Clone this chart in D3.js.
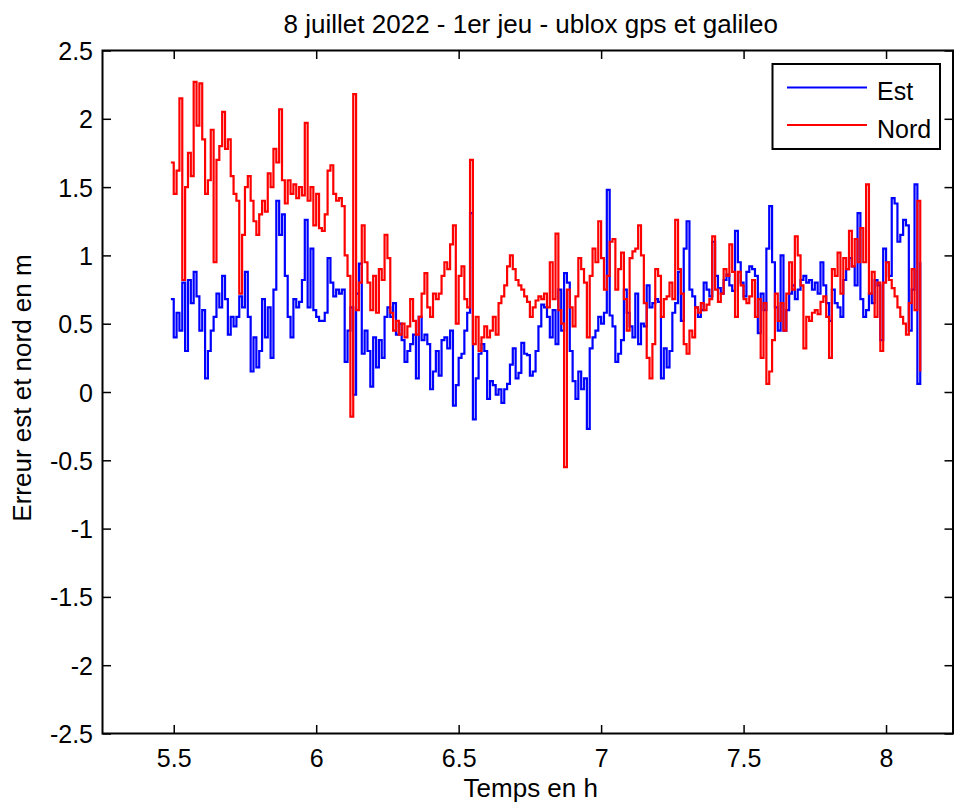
<!DOCTYPE html>
<html>
<head>
<meta charset="utf-8">
<script src="https://cdn.jsdelivr.net/npm/d3@7"></script>
<style>
  html, body { margin: 0; padding: 0; background: #fff; }
  svg { display: block; font-family: "Liberation Sans", Arial, Helvetica, sans-serif; }
</style>
</head>
<body>
<svg id="chart" width="955" height="807"></svg>
<script>
// Sampling grid of the record (hours), one sample every 0.01 h
const startHour = 5.49;
const stepHour = 0.01;

// Error in the east direction (m)
const est = [
  0.68, 0.40, 0.58, 0.45, 0.80, 0.30, 0.82, 0.65, 0.88, 0.70,
  0.45, 0.60, 0.10, 0.30, 0.45, 0.55, 0.72, 0.62, 0.85, 0.68,
  0.42, 0.55, 0.48, 0.55, 0.70, 0.62, 0.88, 0.55, 0.15, 0.40,
  0.18, 0.30, 0.68, 0.40, 0.62, 0.25, 0.75, 1.40, 1.15, 1.30,
  0.85, 0.55, 0.40, 0.68, 0.62, 0.66, 0.82, 1.26, 0.62, 1.05,
  0.60, 0.55, 0.52, 0.52, 0.58, 0.98, 0.80, 0.70, 0.75, 0.72,
  0.75, 0.22, 0.45, 0.62, -0.02, 0.72, 0.94, 0.28, 0.45, 0.30,
  0.04, 0.40, 0.18, 0.38, 0.25, 0.55, 0.62, 0.55, 0.65, 0.42,
  0.50, 0.38, 0.22, 0.30, 0.35, 0.42, 0.10, 0.55, 0.38, 0.42,
  0.35, 0.02, 0.15, 0.30, 0.12, 0.38, 0.40, 0.32, 0.45, -0.10,
  0.05, 0.25, 0.28, 0.45, 0.58, 1.31, -0.20, 0.10, 0.28, 0.35,
  0.30, -0.05, 0.08, 0.05, -0.02, 0.02, -0.08, 0.02, 0.06, 0.20,
  0.32, 0.10, 0.14, 0.36, 0.28, 0.27, 0.12, 0.15, 0.30, 0.48,
  0.64, 0.62, 0.55, 0.40, 0.60, 0.35, 0.75, 0.45, 0.87, 0.80,
  0.30, 0.08, -0.05, 0.15, 0.02, 0.10, -0.27, 0.32, 0.40, 0.45,
  0.55, 0.50, 0.58, 1.48, 0.56, 0.48, 0.22, 0.28, 0.38, 0.75,
  0.58, 0.48, 0.40, 0.72, 0.35, 0.50, 0.48, 0.78, 0.62, 0.65,
  0.68, 0.66, 0.10, 0.32, 0.18, 0.30, 0.58, 0.65, 0.88, 0.52,
  1.05, 1.25, 0.75, 0.70, 0.62, 0.55, 0.60, 0.80, 0.75, 0.70,
  1.10, 0.85, 0.76, 0.72, 0.82, 0.86, 0.78, 0.74, 1.18, 0.95,
  0.80, 0.70, 0.88, 0.92, 0.90, 0.85, 0.43, 0.72, 0.60, 1.05,
  1.36, 0.95, 0.62, 0.45, 1.00, 0.45, 0.60, 0.72, 0.78, 0.68,
  0.75, 0.82, 0.85, 0.80, 0.82, 0.75, 0.80, 0.72, 0.95, 0.78,
  0.65, 0.52, 0.75, 0.65, 0.62, 0.55, 0.82, 0.90, 0.98, 0.92,
  0.78, 1.31, 0.68, 0.55, 0.60, 0.72, 0.65, 0.82, 0.78, 0.38,
  1.05, 0.95, 0.85, 1.42, 1.38, 1.10, 1.15, 1.26, 1.22, 0.45,
  0.75, 1.52, 0.06, 0.95
];

// Error in the north direction (m)
const nord = [
  1.68, 1.45, 1.62, 2.15, 0.82, 1.50, 1.75, 1.58, 2.27, 1.95,
  2.26, 1.85, 1.45, 1.55, 1.92, 0.95, 1.70, 1.80, 2.05, 1.78,
  1.85, 1.58, 1.45, 1.40, 0.72, 1.15, 1.50, 1.58, 1.40, 1.25,
  1.15, 1.30, 1.40, 1.32, 1.60, 1.50, 1.78, 1.68, 2.07, 1.55,
  1.38, 1.55, 1.45, 1.52, 1.42, 1.50, 1.44, 1.97, 1.40, 1.50,
  1.22, 1.45, 1.20, 1.18, 1.30, 1.62, 1.66, 1.45, 1.40, 1.42,
  1.36, 1.00, 0.85, -0.18, 2.18, 0.60, 0.80, 1.22, 0.95, 0.80,
  0.60, 0.85, 0.58, 0.90, 0.82, 1.15, 0.98, 0.58, 0.45, 0.52,
  0.42, 0.50, 0.40, 0.48, 0.68, 0.52, 0.42, 0.55, 0.72, 0.87,
  0.62, 0.55, 0.72, 0.68, 0.72, 0.85, 0.95, 0.90, 1.08, 1.22,
  0.50, 0.85, 0.92, 0.68, 0.62, 1.70, 0.35, 0.55, 0.30, 0.40,
  0.48, 0.40, 0.45, 0.55, 0.42, 0.65, 0.70, 0.78, 0.92, 1.00,
  0.90, 0.82, 0.78, 0.75, 0.70, 0.66, 0.55, 0.62, 0.67, 0.70,
  0.68, 0.72, 0.62, 0.95, 0.68, 1.16, 0.60, 0.50, -0.55, 0.75,
  0.62, 0.48, 0.70, 0.98, 0.90, 0.80, 0.40, 0.85, 1.05, 0.95,
  1.25, 0.98, 0.75, 0.85, 1.10, 1.12, 0.75, 0.90, 1.02, 0.68,
  0.45, 0.98, 1.03, 1.05, 1.22, 1.00, 0.65, 0.25, 0.10, 0.35,
  0.90, 0.85, 0.55, 0.68, 0.70, 0.80, 0.68, 1.26, 0.90, 0.72,
  0.35, 0.28, 0.45, 0.40, 0.62, 0.58, 0.65, 0.60, 0.64, 0.68,
  1.14, 0.75, 0.66, 0.72, 0.90, 0.85, 1.08, 0.88, 0.55, 0.88,
  0.78, 0.68, 0.65, 0.70, 0.82, 0.55, 0.68, 0.25, 0.65, 0.06,
  0.15, 0.38, 0.72, 0.52, 0.65, 0.45, 0.72, 0.95, 0.75, 1.14,
  1.00, 0.78, 0.32, 0.55, 0.52, 0.58, 0.60, 0.57, 0.66, 0.70,
  0.55, 0.25, 0.90, 0.85, 1.02, 0.72, 0.98, 0.90, 1.18, 0.92,
  1.12, 0.95, 1.20, 0.95, 1.52, 0.72, 0.88, 0.55, 0.80, 0.30,
  0.80, 0.95, 0.82, 0.76, 0.70, 0.62, 0.55, 0.50, 0.42, 0.65,
  0.90, 0.60, 1.40, 0.15
];

const xTicks = [5.5, 6, 6.5, 7, 7.5, 8];
const yTicks = [-2.5, -2, -1.5, -1, -0.5, 0, 0.5, 1, 1.5, 2, 2.5];
const xDomain = [5.25, 8.235];
const yDomain = [-2.5, 2.5];

const titleText = "8 juillet 2022 - 1er jeu - ublox gps et galileo";
const xLabel = "Temps en h";
const yLabel = "Erreur est et nord en m";
const seriesNames = ["Est", "Nord"];
const seriesColors = ["#0000ff", "#ff0000"];

// ---- layout ----
const W = 955, H = 807;
const plot = { left: 102.5, right: 953, top: 50.5, bottom: 733.5 };
const fontSize = 25;
const labelSize = 26;
const tickLen = 8.5;

const svg = d3.select("#chart");

const x = d3.scaleLinear().domain(xDomain).range([plot.left, plot.right]);
const y = d3.scaleLinear().domain(yDomain).range([plot.bottom, plot.top]);

const hours = d3.range(est.length).map(i => startHour + i * stepHour);
const fmt = v => String(v);

// clip region for the traces
svg.append("clipPath").attr("id", "plotClip")
  .append("rect")
  .attr("x", plot.left).attr("y", plot.top)
  .attr("width", plot.right - plot.left).attr("height", plot.bottom - plot.top);

// traces
const line = d3.line()
  .x(d => x(d[0]))
  .y(d => y(d[1]))
  .curve(d3.curveStepAfter);

const series = [est, nord];
svg.append("g").attr("clip-path", "url(#plotClip)")
  .selectAll("path")
  .data(series)
  .join("path")
  .attr("d", vals => line(vals.map((v, i) => [hours[i], v])))
  .attr("fill", "none")
  .attr("stroke", (d, i) => seriesColors[i])
  .attr("stroke-width", 2.2)
  .attr("stroke-linejoin", "miter");

// axes with inward ticks on all four sides
function styleAxis(g) {
  g.select(".domain").remove();
  g.selectAll(".tick line").attr("stroke", "#000").attr("stroke-width", 1.5);
  g.selectAll(".tick text")
    .attr("fill", "#000")
    .style("font-size", fontSize + "px")
    .style("font-family", '"Liberation Sans", Arial, sans-serif');
}

svg.append("g")
  .attr("transform", `translate(0,${plot.bottom})`)
  .call(d3.axisBottom(x).tickValues(xTicks).tickFormat(fmt)
    .tickSizeInner(-tickLen).tickSizeOuter(0).tickPadding(15.5))
  .call(styleAxis);

svg.append("g")
  .attr("transform", `translate(0,${plot.top})`)
  .call(d3.axisTop(x).tickValues(xTicks).tickFormat("")
    .tickSizeInner(-tickLen).tickSizeOuter(0))
  .call(styleAxis);

svg.append("g")
  .attr("transform", `translate(${plot.left},0)`)
  .call(d3.axisLeft(y).tickValues(yTicks).tickFormat(fmt)
    .tickSizeInner(-tickLen).tickSizeOuter(0).tickPadding(9.5))
  .call(styleAxis)
  .call(g => g.selectAll(".tick text").attr("dy", "0.36em"));

svg.append("g")
  .attr("transform", `translate(${plot.right},0)`)
  .call(d3.axisRight(y).tickValues(yTicks).tickFormat("")
    .tickSizeInner(-tickLen).tickSizeOuter(0))
  .call(styleAxis);

// axes box
svg.append("rect")
  .attr("x", plot.left).attr("y", plot.top)
  .attr("width", plot.right - plot.left).attr("height", plot.bottom - plot.top)
  .attr("fill", "none").attr("stroke", "#000").attr("stroke-width", 2);

// title and axis labels
const midX = (plot.left + plot.right) / 2;
svg.append("text")
  .attr("x", midX + 3).attr("y", 33)
  .attr("text-anchor", "middle")
  .style("font-size", labelSize + "px")
  .text(titleText);

svg.append("text")
  .attr("x", midX + 3).attr("y", 797)
  .attr("text-anchor", "middle")
  .style("font-size", labelSize + "px")
  .text(xLabel);

svg.append("text")
  .attr("transform", `translate(31,${(plot.top + plot.bottom) / 2 - 4}) rotate(-90)`)
  .attr("text-anchor", "middle")
  .style("font-size", labelSize + "px")
  .text(yLabel);

// legend
const legend = { x: 772.5, y: 64, w: 167.5, h: 85 };
const lg = svg.append("g");
lg.append("rect")
  .attr("x", legend.x).attr("y", legend.y)
  .attr("width", legend.w).attr("height", legend.h)
  .attr("fill", "#fff").attr("stroke", "#000").attr("stroke-width", 2);

const legendRows = [87.5, 125];
seriesNames.forEach((name, i) => {
  lg.append("line")
    .attr("x1", 787).attr("x2", 867)
    .attr("y1", legendRows[i]).attr("y2", legendRows[i])
    .attr("stroke", seriesColors[i]).attr("stroke-width", 2);
  lg.append("text")
    .attr("x", 877).attr("y", legendRows[i] + 12.5)
    .style("font-size", fontSize + "px")
    .text(name);
});
</script>
</body>
</html>
